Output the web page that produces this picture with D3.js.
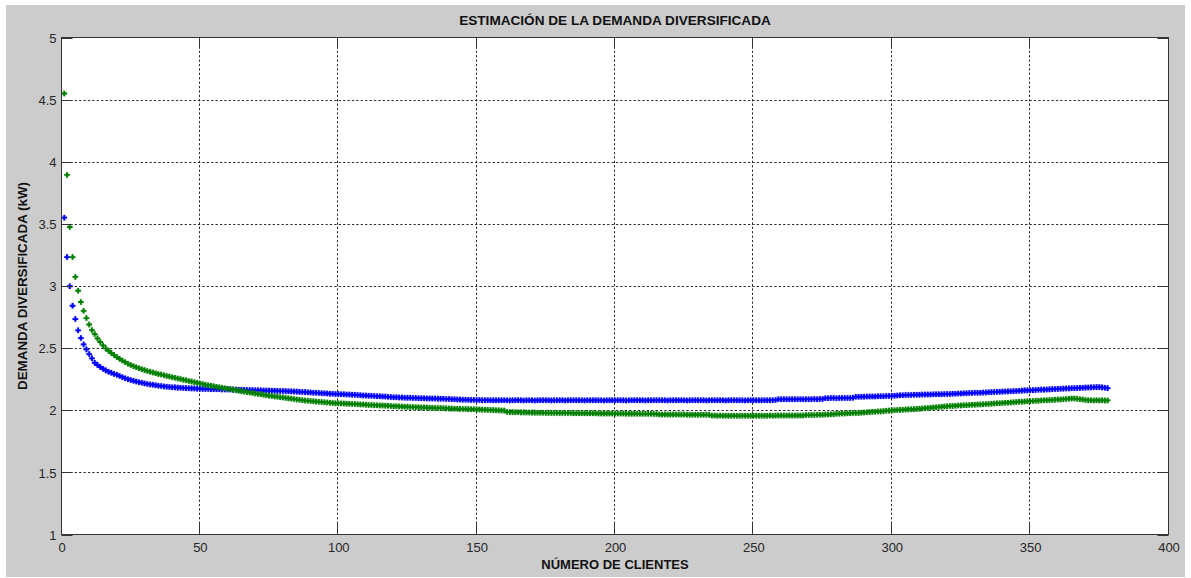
<!DOCTYPE html>
<html>
<head>
<meta charset="utf-8">
<script src="https://cdn.jsdelivr.net/npm/d3@7/dist/d3.min.js"></script>
<style>
  html, body { margin: 0; padding: 0; background: #ffffff; }
  svg { display: block; }
  text { font-family: "Liberation Sans", Arial, Helvetica, sans-serif; }
</style>
</head>
<body>
<svg id="chart" width="1191" height="578"></svg>
<script>
// Chart text
const titleText = "ESTIMACIÓN DE LA DEMANDA DIVERSIFICADA";
const xLabelText = "NÚMERO DE CLIENTES";
const yLabelText = "DEMANDA DIVERSIFICADA (kW)";

// Axis ticks
const xTicks = [0, 50, 100, 150, 200, 250, 300, 350, 400];
const yTicks = [1, 1.5, 2, 2.5, 3, 3.5, 4, 4.5, 5];

// Diversified demand (kW) for 1..378 clients — blue series
const demandBlue = [
  3.550, 3.233, 2.998, 2.841, 2.734, 2.643, 2.581, 2.530, 2.490, 2.452,
  2.418, 2.382, 2.364, 2.348, 2.334, 2.321, 2.310, 2.302, 2.291, 2.286,
  2.276, 2.266, 2.258, 2.250, 2.243, 2.237, 2.231, 2.226, 2.221, 2.216,
  2.212, 2.208, 2.205, 2.201, 2.198, 2.195, 2.192, 2.190, 2.187, 2.185,
  2.184, 2.182, 2.181, 2.179, 2.178, 2.177, 2.176, 2.175, 2.174, 2.173,
  2.172, 2.172, 2.171, 2.170, 2.170, 2.169, 2.169, 2.168, 2.168, 2.168,
  2.167, 2.166, 2.166, 2.165, 2.164, 2.164, 2.163, 2.162, 2.162, 2.161,
  2.160, 2.160, 2.159, 2.158, 2.158, 2.157, 2.157, 2.156, 2.155, 2.155,
  2.154, 2.153, 2.152, 2.151, 2.150, 2.148, 2.147, 2.146, 2.144, 2.143,
  2.141, 2.140, 2.139, 2.137, 2.136, 2.135, 2.133, 2.132, 2.131, 2.130,
  2.129, 2.128, 2.127, 2.126, 2.125, 2.124, 2.122, 2.121, 2.119, 2.118,
  2.117, 2.116, 2.115, 2.113, 2.112, 2.111, 2.110, 2.108, 2.106, 2.105,
  2.104, 2.103, 2.102, 2.101, 2.100, 2.100, 2.099, 2.098, 2.097, 2.097,
  2.096, 2.095, 2.095, 2.094, 2.094, 2.093, 2.093, 2.092, 2.091, 2.090,
  2.089, 2.088, 2.087, 2.086, 2.085, 2.084, 2.084, 2.083, 2.083, 2.082,
  2.082, 2.081, 2.081, 2.081, 2.080, 2.080, 2.080, 2.080, 2.080, 2.080,
  2.080, 2.079, 2.080, 2.080, 2.081, 2.080, 2.079, 2.080, 2.080, 2.080,
  2.079, 2.080, 2.080, 2.081, 2.080, 2.080, 2.079, 2.080, 2.080, 2.080,
  2.080, 2.079, 2.080, 2.080, 2.080, 2.081, 2.080, 2.080, 2.079, 2.080,
  2.080, 2.080, 2.081, 2.080, 2.080, 2.079, 2.080, 2.080, 2.080, 2.080,
  2.081, 2.080, 2.080, 2.079, 2.080, 2.080, 2.080, 2.081, 2.080, 2.080,
  2.079, 2.080, 2.080, 2.080, 2.081, 2.080, 2.080, 2.080, 2.079, 2.080,
  2.080, 2.081, 2.080, 2.080, 2.080, 2.079, 2.080, 2.080, 2.081, 2.080,
  2.080, 2.080, 2.079, 2.080, 2.081, 2.080, 2.080, 2.080, 2.080, 2.079,
  2.080, 2.080, 2.081, 2.080, 2.080, 2.080, 2.079, 2.080, 2.081, 2.080,
  2.080, 2.080, 2.080, 2.081, 2.080, 2.081, 2.081, 2.082, 2.088, 2.088,
  2.089, 2.088, 2.088, 2.089, 2.088, 2.089, 2.089, 2.088, 2.089, 2.089,
  2.089, 2.090, 2.089, 2.090, 2.090, 2.097, 2.097, 2.098, 2.098, 2.097,
  2.098, 2.098, 2.099, 2.098, 2.099, 2.100, 2.108, 2.108, 2.109, 2.109,
  2.110, 2.110, 2.111, 2.111, 2.112, 2.112, 2.113, 2.114, 2.115, 2.116,
  2.117, 2.119, 2.120, 2.121, 2.122, 2.122, 2.123, 2.124, 2.125, 2.125,
  2.126, 2.126, 2.127, 2.127, 2.128, 2.128, 2.129, 2.129, 2.130, 2.130,
  2.131, 2.132, 2.133, 2.134, 2.135, 2.136, 2.137, 2.138, 2.139, 2.140,
  2.141, 2.141, 2.142, 2.143, 2.145, 2.146, 2.147, 2.148, 2.149, 2.150,
  2.151, 2.152, 2.153, 2.154, 2.155, 2.157, 2.158, 2.160, 2.160, 2.161,
  2.162, 2.163, 2.165, 2.166, 2.166, 2.167, 2.168, 2.170, 2.171, 2.172,
  2.173, 2.174, 2.175, 2.176, 2.177, 2.178, 2.178, 2.180, 2.181, 2.182,
  2.183, 2.184, 2.185, 2.186, 2.186, 2.184, 2.181, 2.178
];

// Diversified demand (kW) for 1..378 clients — green series
const demandGreen = [
  4.549, 3.894, 3.475, 3.233, 3.073, 2.962, 2.871, 2.800, 2.742, 2.690,
  2.645, 2.613, 2.579, 2.549, 2.522, 2.498, 2.479, 2.460, 2.444, 2.428,
  2.414, 2.400, 2.387, 2.375, 2.364, 2.355, 2.346, 2.338, 2.330, 2.323,
  2.316, 2.310, 2.304, 2.298, 2.292, 2.287, 2.281, 2.276, 2.271, 2.266,
  2.261, 2.256, 2.251, 2.246, 2.241, 2.236, 2.231, 2.226, 2.221, 2.216,
  2.211, 2.206, 2.201, 2.197, 2.193, 2.189, 2.185, 2.181, 2.177, 2.173,
  2.170, 2.166, 2.162, 2.158, 2.154, 2.150, 2.146, 2.142, 2.138, 2.135,
  2.131, 2.128, 2.124, 2.121, 2.117, 2.114, 2.111, 2.108, 2.105, 2.102,
  2.099, 2.096, 2.093, 2.090, 2.087, 2.084, 2.081, 2.078, 2.076, 2.074,
  2.072, 2.070, 2.068, 2.066, 2.064, 2.062, 2.060, 2.058, 2.057, 2.056,
  2.055, 2.054, 2.053, 2.052, 2.051, 2.050, 2.049, 2.047, 2.046, 2.044,
  2.043, 2.042, 2.041, 2.040, 2.039, 2.038, 2.037, 2.036, 2.034, 2.033,
  2.032, 2.031, 2.030, 2.029, 2.028, 2.027, 2.026, 2.025, 2.024, 2.023,
  2.022, 2.021, 2.020, 2.019, 2.018, 2.018, 2.017, 2.016, 2.015, 2.014,
  2.013, 2.012, 2.012, 2.011, 2.010, 2.010, 2.009, 2.008, 2.008, 2.007,
  2.006, 2.005, 2.004, 2.003, 2.002, 2.001, 2.000, 1.999, 1.998, 1.997,
  1.986, 1.985, 1.985, 1.984, 1.984, 1.983, 1.983, 1.982, 1.982, 1.981,
  1.981, 1.980, 1.980, 1.980, 1.979, 1.979, 1.979, 1.978, 1.978, 1.978,
  1.977, 1.977, 1.977, 1.977, 1.976, 1.976, 1.976, 1.976, 1.976, 1.975,
  1.975, 1.975, 1.975, 1.974, 1.974, 1.974, 1.974, 1.974, 1.973, 1.973,
  1.973, 1.973, 1.973, 1.972, 1.972, 1.972, 1.972, 1.972, 1.971, 1.971,
  1.971, 1.971, 1.971, 1.970, 1.970, 1.966, 1.966, 1.966, 1.966, 1.965,
  1.965, 1.965, 1.965, 1.965, 1.965, 1.964, 1.964, 1.964, 1.964, 1.964,
  1.964, 1.964, 1.963, 1.963, 1.957, 1.957, 1.956, 1.957, 1.956, 1.956,
  1.956, 1.956, 1.956, 1.956, 1.955, 1.956, 1.956, 1.956, 1.956, 1.956,
  1.956, 1.956, 1.956, 1.956, 1.956, 1.957, 1.956, 1.957, 1.957, 1.957,
  1.957, 1.957, 1.958, 1.957, 1.958, 1.958, 1.958, 1.958, 1.961, 1.961,
  1.962, 1.962, 1.963, 1.964, 1.964, 1.965, 1.966, 1.967, 1.968, 1.971,
  1.972, 1.973, 1.974, 1.975, 1.976, 1.977, 1.978, 1.979, 1.980, 1.982,
  1.984, 1.985, 1.987, 1.988, 1.990, 1.991, 1.993, 1.996, 1.997, 1.999,
  2.000, 2.002, 2.003, 2.004, 2.006, 2.007, 2.008, 2.009, 2.011, 2.012,
  2.014, 2.016, 2.018, 2.020, 2.022, 2.024, 2.026, 2.028, 2.030, 2.032,
  2.034, 2.035, 2.036, 2.038, 2.039, 2.040, 2.041, 2.042, 2.044, 2.045,
  2.046, 2.047, 2.048, 2.050, 2.051, 2.053, 2.054, 2.056, 2.057, 2.059,
  2.060, 2.061, 2.063, 2.064, 2.066, 2.068, 2.069, 2.070, 2.072, 2.073,
  2.075, 2.076, 2.077, 2.079, 2.080, 2.081, 2.082, 2.083, 2.085, 2.086,
  2.087, 2.089, 2.091, 2.093, 2.095, 2.094, 2.092, 2.089, 2.086, 2.083,
  2.081, 2.080, 2.079, 2.080, 2.079, 2.080, 2.079, 2.079
];

const seriesColors = { blue: "#0000ff", green: "#008000" };

const W = 1191, H = 578;
const plot = { left: 61.5, right: 1168.5, top: 37.5, bottom: 534.5 };

const svg = d3.select("#chart");

// figure background
svg.append("rect").attr("x", 0).attr("y", 0).attr("width", W).attr("height", H).attr("fill", "#ffffff");
svg.append("rect").attr("x", 6).attr("y", 5).attr("width", W - 12).attr("height", H - 6).attr("fill", "#cccccc");

const x = d3.scaleLinear().domain([0, 400]).range([plot.left, plot.right]);
const y = d3.scaleLinear().domain([1, 5]).range([plot.bottom, plot.top]);

// axes area
svg.append("rect")
  .attr("x", plot.left).attr("y", plot.top)
  .attr("width", plot.right - plot.left).attr("height", plot.bottom - plot.top)
  .attr("fill", "#ffffff");

// dotted grid
const grid = svg.append("g").attr("stroke", "#2a2a2a").attr("stroke-width", 1)
  .attr("stroke-dasharray", "2.3,2.1").attr("fill", "none");
grid.selectAll("line.gx").data(xTicks.slice(1, -1)).join("line")
  .attr("x1", d => Math.round(x(d)) - 0.5).attr("x2", d => Math.round(x(d)) - 0.5)
  .attr("y1", plot.top).attr("y2", plot.bottom);
grid.selectAll("line.gy").data(yTicks.slice(1, -1)).join("line")
  .attr("y1", d => Math.round(y(d)) + 0.5).attr("y2", d => Math.round(y(d)) + 0.5)
  .attr("x1", plot.left).attr("x2", plot.right);

// data markers
const cross = d3.symbol().type(d3.symbolCross).size(17)();
function drawSeries(values, color) {
  svg.append("g").selectAll("path").data(values).join("path")
    .attr("d", cross)
    .attr("transform", (d, i) => `translate(${x(i + 1)},${y(d)})`)
    .attr("fill", color)
    .attr("stroke", color).attr("stroke-width", 0.4).attr("stroke-opacity", 0.5);
}
drawSeries(demandBlue, seriesColors.blue);
drawSeries(demandGreen, seriesColors.green);

// axes with inward ticks on all four sides
const tickLen = 11;
const axisColor = "#333333";
const bottomAxis = d3.axisBottom(x).tickValues(xTicks).tickSize(0).tickPadding(8).tickFormat(d3.format("d"));
const leftAxis = d3.axisLeft(y).tickValues(yTicks).tickSize(0).tickPadding(5).tickFormat(d => d3.format("")(d));

const gb = svg.append("g").attr("transform", `translate(0,${plot.bottom})`).call(bottomAxis);
const gl = svg.append("g").attr("transform", `translate(${plot.left},0)`).call(leftAxis);
[gb, gl].forEach(g => {
  g.select(".domain").remove();
  g.selectAll("text").attr("fill", "#262626").style("font-size", "13px")
    .style("font-family", "'Liberation Sans', Arial, sans-serif");
});
gb.selectAll("text").attr("dy", "0.71em");
gl.selectAll("text").attr("dy", "0.36em");

const ticks = svg.append("g").attr("stroke", axisColor).attr("stroke-width", 1);
xTicks.forEach(t => {
  const px = Math.round(x(t)) - 0.5;
  ticks.append("line").attr("x1", px).attr("x2", px).attr("y1", plot.bottom).attr("y2", plot.bottom - tickLen);
  ticks.append("line").attr("x1", px).attr("x2", px).attr("y1", plot.top).attr("y2", plot.top + tickLen);
});
yTicks.forEach(t => {
  const py = Math.round(y(t)) + 0.5;
  ticks.append("line").attr("y1", py).attr("y2", py).attr("x1", plot.left).attr("x2", plot.left + tickLen);
  ticks.append("line").attr("y1", py).attr("y2", py).attr("x1", plot.right).attr("x2", plot.right - tickLen);
});

// axes box
svg.append("rect")
  .attr("x", plot.left).attr("y", plot.top)
  .attr("width", plot.right - plot.left).attr("height", plot.bottom - plot.top)
  .attr("fill", "none").attr("stroke", axisColor).attr("stroke-width", 1);

// title and axis labels
svg.append("text")
  .attr("x", (plot.left + plot.right) / 2).attr("y", 25)
  .attr("text-anchor", "middle").attr("fill", "#111")
  .style("font-size", "13.6px").style("font-weight", "bold")
  .text(titleText);

svg.append("text")
  .attr("x", (plot.left + plot.right) / 2).attr("y", 569)
  .attr("text-anchor", "middle").attr("fill", "#111")
  .style("font-size", "13px").style("font-weight", "bold")
  .text(xLabelText);

svg.append("text")
  .attr("transform", `translate(27,${(plot.top + plot.bottom) / 2}) rotate(-90)`)
  .attr("text-anchor", "middle").attr("fill", "#111")
  .style("font-size", "13.4px").style("font-weight", "bold")
  .text(yLabelText);
</script>
</body>
</html>
